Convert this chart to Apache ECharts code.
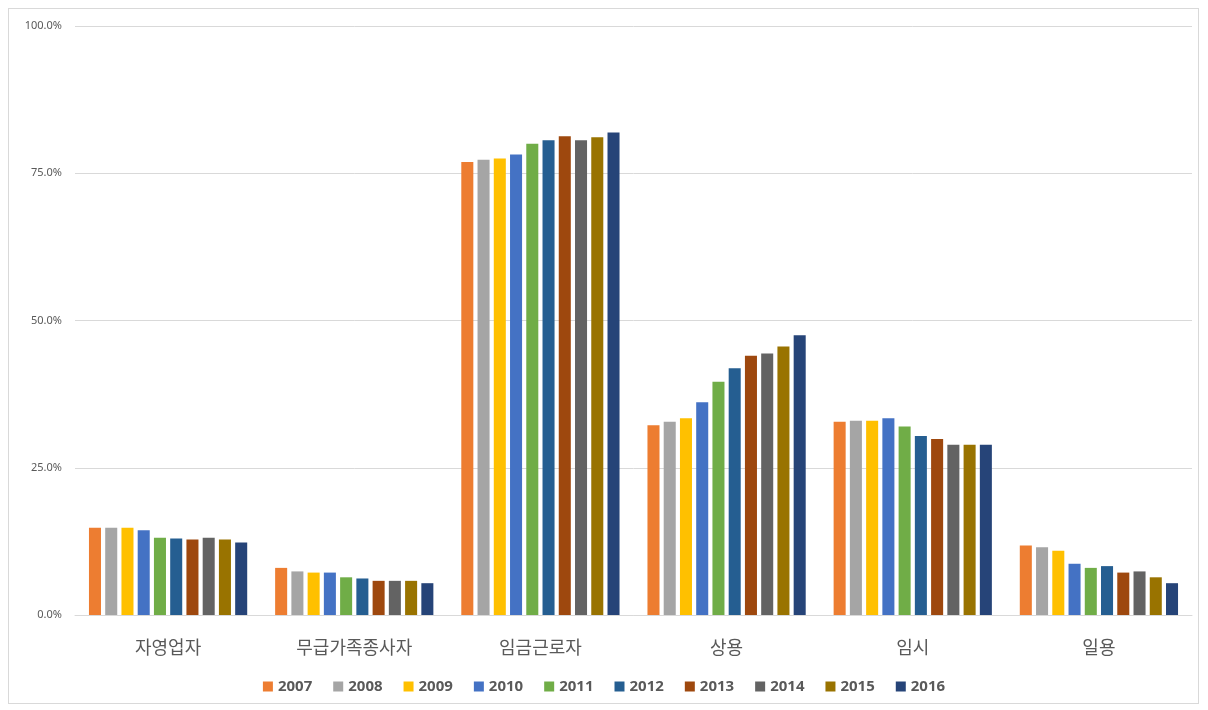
<!DOCTYPE html>
<html><head><meta charset="utf-8">
<script src="https://cdn.jsdelivr.net/npm/echarts@6/dist/echarts.min.js"></script>
<style>
html,body{margin:0;padding:0;background:#fff;}
#frame{position:absolute;left:8px;top:8px;width:1191px;height:696px;border:1px solid #d9d9d9;box-sizing:border-box;}
#c{position:absolute;left:0;top:0;width:1208px;height:710px;}
</style></head>
<body><div id="frame"></div><div id="c"></div>
<script>
const categories = ['자영업자','무급가족종사자','임금근로자','상용','임시','일용'];
const years = ['2007','2008','2009','2010','2011','2012','2013','2014','2015','2016'];
const v2007 = [14.8, 8.0, 76.9, 32.2, 32.8, 11.8];
const v2008 = [14.8, 7.4, 77.3, 32.8, 33.0, 11.5];
const v2009 = [14.8, 7.2, 77.5, 33.4, 33.0, 10.9];
const v2010 = [14.4, 7.2, 78.2, 36.1, 33.4, 8.7];
const v2011 = [13.1, 6.4, 80.0, 39.6, 32.0, 8.0];
const v2012 = [13.0, 6.2, 80.6, 41.9, 30.4, 8.3];
const v2013 = [12.8, 5.8, 81.3, 44.0, 29.9, 7.2];
const v2014 = [13.1, 5.8, 80.6, 44.4, 28.9, 7.4];
const v2015 = [12.8, 5.8, 81.1, 45.6, 28.9, 6.4];
const v2016 = [12.3, 5.4, 81.9, 47.5, 28.9, 5.4];
const yTicks = [0, 25, 50, 75, 100];
const seriesValues = [v2007,v2008,v2009,v2010,v2011,v2012,v2013,v2014,v2015,v2016];
const colors = ['#ED7D31','#A5A5A5','#FFC000','#4472C4','#70AD47','#255E91','#9E480E','#636363','#997300','#264478'];

const chart = echarts.init(document.getElementById('c'));
chart.setOption({
  animation:false,
  color: colors,
  grid:{left:75, right:16, top:26, bottom:95, containLabel:false},
  legend:{
    bottom:11, left:'center', itemWidth:10, itemHeight:10, itemGap:21, icon:'rect',
    textStyle:{fontSize:15, fontWeight:'bold', color:'#595959', fontFamily:'Noto Sans, sans-serif'},
    data: years
  },
  xAxis:{
    type:'category', data:categories,
    axisLine:{lineStyle:{color:'#d9d9d9'}},
    axisTick:{show:false},
    axisLabel:{fontSize:18, color:'#595959', margin:23, fontFamily:'Noto Sans CJK KR'}
  },
  yAxis:{
    type:'value', min:0, max:100, interval:25,
    axisLine:{show:false}, axisTick:{show:false},
    splitLine:{lineStyle:{color:'#d9d9d9'}},
    axisLabel:{fontSize:11, color:'#595959', margin:13, fontFamily:'Noto Sans',
      formatter:v=> yTicks.includes(v) ? v.toFixed(1)+'%' : ''}
  },
  series: years.map((y,i)=>({
    name:y, type:'bar', data:seriesValues[i],
    barGap:'35%', barCategoryGap:'15%'
  }))
});
</script></body></html>
